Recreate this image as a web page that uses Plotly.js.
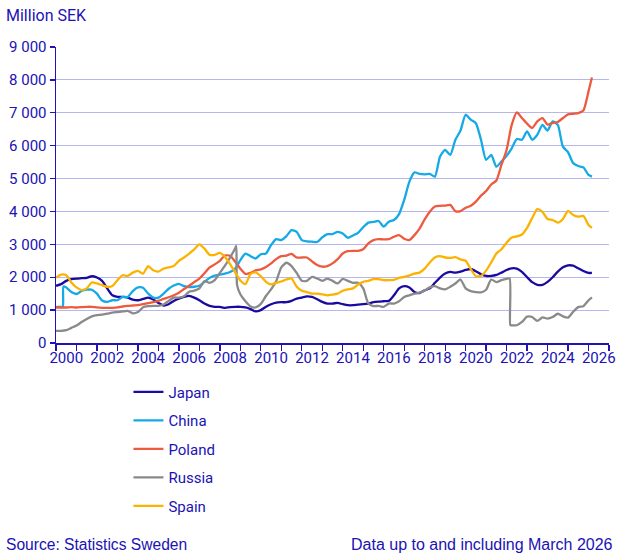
<!DOCTYPE html>
<html>
<head>
<meta charset="utf-8">
<script src="https://cdn.plot.ly/plotly-3.0.1.min.js"></script>
<style>
  html, body { margin: 0; padding: 0; background: #ffffff; }
  #chart { width: 635px; height: 558px; }
</style>
</head>
<body>
<div id="chart"></div>
<script>
// Imports by country, million SEK, quarterly readings from Jan 2000 to Jan 2026, plus March 2026.
const countries = ['Japan', 'China', 'Poland', 'Russia', 'Spain'];
const colors = ['#1b0aa0', '#15a9e6', '#ee5a3e', '#8a8a8a', '#fbb300'];

const japan = [
  1740, 1790, 1890, 1940, 1960, 1970, 1980, 2030, 1990, 1890, 1660, 1450,
  1400, 1400, 1380, 1320, 1300, 1340, 1380, 1320, 1220, 1140, 1180, 1280,
  1350, 1400, 1430, 1380, 1300, 1200, 1130, 1100, 1100, 1070, 1090, 1100,
  1100, 1080, 1030, 960, 1000, 1100, 1180, 1230, 1240, 1240, 1280, 1350,
  1380, 1420, 1400, 1330, 1250, 1200, 1200, 1220, 1180, 1150, 1150, 1170,
  1180, 1200, 1240, 1260, 1270, 1280, 1450, 1660, 1730, 1690, 1550, 1520,
  1600, 1660, 1830, 1990, 2110, 2160, 2140, 2170, 2220, 2250, 2180, 2090,
  2040, 2040, 2070, 2140, 2220, 2270, 2260, 2160, 2000, 1850, 1770, 1770,
  1860, 2000, 2170, 2300, 2360, 2350, 2270, 2190, 2130, 2130
];
const china = [
  1100, 1100, 1690, 1550, 1490, 1580, 1620, 1620, 1500, 1290, 1250, 1300,
  1300, 1400, 1400, 1580, 1690, 1680, 1500, 1380, 1380, 1500, 1650, 1750,
  1800, 1730, 1700, 1710, 1740, 1860, 1980, 2050, 2080, 2110, 2160, 2260,
  2520, 2720, 2640, 2570, 2700, 2720, 2980, 3160, 3130, 3250, 3430, 3380,
  3130, 3090, 3080, 3070, 3210, 3310, 3310, 3380, 3330, 3200, 3270, 3350,
  3520, 3660, 3680, 3710, 3540, 3690, 3740, 3920, 4350, 4900, 5190, 5140,
  5130, 5140, 5060, 5670, 5870, 5720, 6180, 6460, 6940, 6790, 6680, 6180,
  5570, 5720, 5360, 5520, 5690, 5920, 6200, 6180, 6430, 6180, 6330, 6630,
  6460, 6740, 6630, 5970, 5800, 5470, 5380, 5340, 5110, 5060
];
const poland = [
  1080, 1080, 1080, 1090, 1080, 1090, 1100, 1100, 1080, 1070, 1070, 1070,
  1080, 1110, 1130, 1140, 1150, 1180, 1210, 1240, 1280, 1340, 1390, 1450,
  1530, 1640, 1740, 1850, 1960, 2120, 2300, 2390, 2500, 2660, 2650, 2470,
  2260, 2100, 2130, 2210, 2240, 2310, 2420, 2550, 2640, 2660, 2710, 2600,
  2600, 2600, 2480, 2370, 2320, 2340, 2420, 2550, 2720, 2790, 2800, 2800,
  2850, 3030, 3130, 3160, 3150, 3160, 3230, 3280, 3170, 3130, 3280, 3480,
  3760, 3990, 4150, 4170, 4180, 4200, 4010, 4010, 4110, 4170, 4300, 4480,
  4620, 4820, 4940, 5420, 5870, 6630, 7010, 6840, 6670, 6540, 6740, 6840,
  6640, 6690, 6720, 6840, 6950, 6970, 6990, 7070, 7650, 8070
];
const russia = [
  370, 370, 390, 460, 530, 640, 730, 810, 850, 860, 890, 920,
  940, 960, 975, 900, 940, 1090, 1120, 1130, 1130, 1170, 1280, 1380,
  1380, 1420, 1560, 1590, 1660, 1880, 1830, 1910, 2130, 2350, 2600, 2880,
  1480, 1270, 1110, 1080, 1190, 1430, 1630, 1880, 2300, 2440, 2340, 2130,
  1890, 1890, 2010, 1960, 1890, 1960, 1890, 1810, 1950, 1890, 1830, 1830,
  1660, 1200, 1120, 1130, 1100, 1200, 1200, 1270, 1400, 1450, 1500, 1530,
  1600, 1690, 1730, 1660, 1630, 1710, 1810, 1930, 1660, 1580, 1550, 1540,
  1620, 1930, 1850, 1910, 1950, 540, 540, 640, 800, 790, 670, 780,
  740, 790, 890, 810, 770, 950, 1090, 1120, 1300, 1390
];
const spain = [
  1990, 2080, 2060, 1840, 1690, 1610, 1660, 1840, 1810, 1760, 1710, 1730,
  1910, 2060, 2040, 2140, 2190, 2110, 2340, 2210, 2170, 2260, 2300, 2340,
  2500, 2600, 2720, 2850, 3000, 2870, 2680, 2680, 2740, 2620, 2400, 2150,
  1900, 1790, 2100, 2150, 2030, 1860, 1780, 1830, 1870, 1930, 1960, 1710,
  1590, 1550, 1500, 1500, 1480, 1450, 1470, 1500, 1590, 1630, 1660, 1780,
  1860, 1890, 1940, 1940, 1910, 1910, 1920, 1980, 2010, 2050, 2110, 2140,
  2260, 2450, 2600, 2640, 2600, 2590, 2610, 2540, 2500, 2250, 2030, 2040,
  2200, 2450, 2720, 2850, 3050, 3210, 3240, 3300, 3500, 3800, 4070, 3990,
  3770, 3740, 3660, 3770, 4020, 3890, 3840, 3860, 3590, 3500
];

// Monthly readings around abrupt level shifts (year, month index 0-11, value).
const chinaShiftMonths = [[2000, 4, 1100], [2000, 4.4, 1720]];
const russiaShiftMonths = [[2008, 9.6, 2950], [2008, 10.1, 1760], [2022, 1.8, 1960], [2022, 2.2, 540]];

// Time axis: first month of each quarter, then March 2026 (decimal years).
const periods = [];
for (let y = 2000; y <= 2026; y++) {
  for (const m of [0, 3, 6, 9]) {
    if (y === 2026 && m > 0) break;
    periods.push(y + m / 12);
  }
}
periods.push(2026 + 2 / 12);

// X-axis labels sit in the middle of every second year.
const labelYears = [];
for (let y = 2000; y <= 2026; y += 2) labelYears.push(y);

function withShifts(values, shifts) {
  const pts = periods.map((t, i) => [t, values[i]]);
  (shifts || []).forEach(s => pts.push([s[0] + s[1] / 12, s[2]]));
  pts.sort((a, b) => a[0] - b[0]);
  return { x: pts.map(p => p[0]), y: pts.map(p => p[1]) };
}

const seriesValues = [japan, china, poland, russia, spain];
const seriesShifts = [null, chinaShiftMonths, null, russiaShiftMonths, null];

const ink = '#2012b4';
const tickFont = { family: 'Roboto, Arial, sans-serif', size: 15, color: ink };

const traces = countries.map((name, i) => {
  const s = withShifts(seriesValues[i], seriesShifts[i]);
  return {
    type: 'scatter',
    mode: 'lines',
    name: name,
    legendgroup: name,
    x: s.x,
    y: s.y,
    line: { color: colors[i], width: 2.3, shape: 'spline', smoothing: 0.6 },
    hoverinfo: 'skip'
  };
});

const layout = {
  width: 635,
  height: 558,
  margin: { l: 56, r: 26, t: 47, b: 215 },
  paper_bgcolor: '#ffffff',
  plot_bgcolor: '#ffffff',
  separators: ', ',
  showlegend: true,
  legend: {
    orientation: 'v',
    x: 0.131,
    xanchor: 'left',
    y: -0.11,
    yanchor: 'top',
    font: { family: 'Roboto, Arial, sans-serif', size: 15, color: ink },
    tracegroupgap: 6,
    itemwidth: 30,
    bgcolor: 'rgba(0,0,0,0)'
  },
  xaxis: {
    type: 'linear',
    range: [2000, 2027],
    tickmode: 'array',
    tickvals: labelYears.map(y => y + 0.5),
    ticktext: labelYears.map(String),
    ticks: '',
    showgrid: false,
    zeroline: false,
    showline: true,
    linecolor: ink,
    linewidth: 1.5,
    tickfont: tickFont,
    minor: {
      tickmode: 'linear',
      tick0: 2000,
      dtick: 1,
      ticks: 'outside',
      ticklen: 6,
      tickwidth: 1.3,
      tickcolor: ink,
      showgrid: false
    },
    fixedrange: true
  },
  yaxis: {
    range: [0, 9000],
    tickmode: 'linear',
    tick0: 0,
    dtick: 1000,
    separatethousands: true,
    ticks: 'outside',
    ticklen: 5,
    tickwidth: 1.3,
    tickcolor: ink,
    showline: true,
    linecolor: ink,
    linewidth: 1.5,
    showgrid: true,
    gridcolor: '#b7b7ef',
    gridwidth: 1,
    zeroline: false,
    tickfont: tickFont,
    fixedrange: true
  },
  annotations: [
    {
      text: 'Million SEK',
      xref: 'paper', yref: 'paper',
      x: -0.094, y: 1.108,
      xanchor: 'left', yanchor: 'middle',
      showarrow: false,
      font: { family: 'Roboto, Arial, sans-serif', size: 16, color: ink }
    },
    {
      text: 'Source: Statistics Sweden',
      xref: 'paper', yref: 'paper',
      x: -0.094, y: -0.682,
      xanchor: 'left', yanchor: 'middle',
      showarrow: false,
      font: { family: '"Liberation Sans", Arial, sans-serif', size: 15.6, color: ink }
    },
    {
      text: 'Data up to and including March 2026',
      xref: 'paper', yref: 'paper',
      x: 1.011, y: -0.682,
      xanchor: 'right', yanchor: 'middle',
      showarrow: false,
      font: { family: '"Liberation Sans", Arial, sans-serif', size: 16, color: ink }
    }
  ]
};

Plotly.newPlot('chart', traces, layout, { displayModeBar: false, staticPlot: true });
</script>
</body>
</html>
